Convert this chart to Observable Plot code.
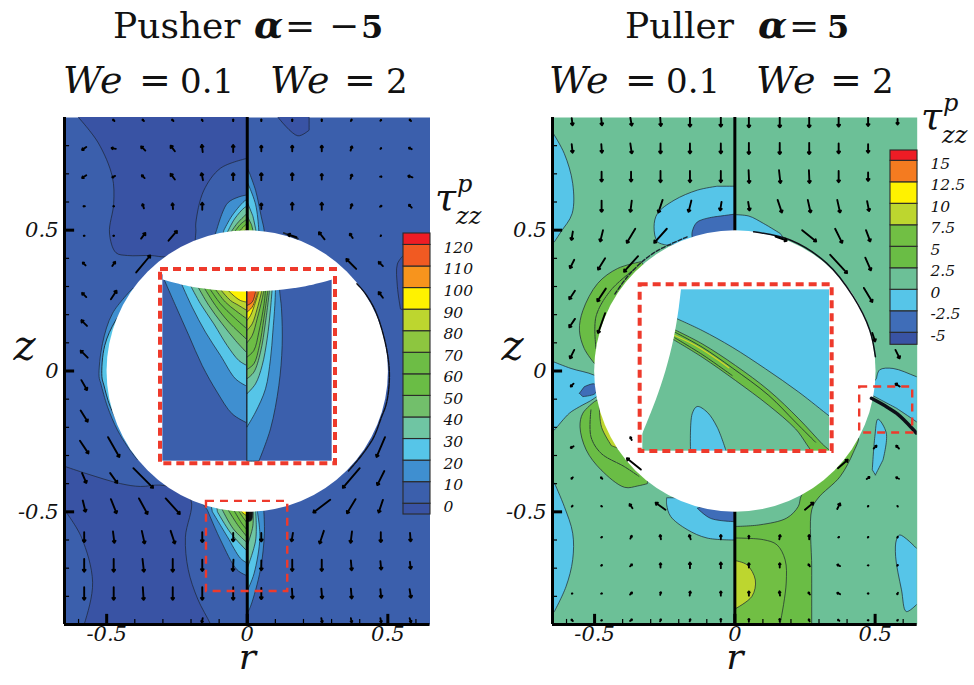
<!DOCTYPE html>
<html><head><meta charset="utf-8">
<script src="https://cdn.jsdelivr.net/npm/d3@7"></script>
<script src="https://cdn.jsdelivr.net/npm/@observablehq/plot@0.6"></script>
<style>
html,body{margin:0;background:#fff}
#page{position:relative;width:974px;height:685px;overflow:hidden;font-family:'DejaVu Serif';color:#111}
.m{position:absolute;font-style:italic;line-height:1;white-space:pre}
</style></head><body><div id="page"></div>
<script>
// ---------- shared colours (Tecplot flood levels)
const C={navy:"#3953a4",base:"#3b5fac",b10:"#3f8fd0",b20:"#56c5e8",sage:"#6cc097",g40:"#72bf6b",g50:"#6abd45",g60:"#6dbd45",g70:"#8dc63f",yg:"#bdd62f",y:"#fff200",o:"#f7941d",ro:"#f15a22",r:"#ee1c25"};
// ---------- axis ticks
const xMajor=[-0.5,0,0.5], yMajor=[-0.5,0,0.5];
const xMinor=[-0.6,-0.4,-0.3,-0.2,-0.1,0.1,0.2,0.3,0.4,0.6];
const yMinor=[-0.8,-0.7,-0.6,-0.4,-0.3,-0.2,-0.1,0.1,0.2,0.3,0.4,0.6,0.7,0.8];
const sphere=[{r:0,z:0,radius:0.5}];
// ---------- legends
const pusherLevels=[-5,0,10,20,30,40,50,60,70,80,90,100,110,120,125.3];
const pusherLevelColors=[C.navy,C.base,C.b10,C.b20,"#6fc5a3",C.g40,C.g50,C.g60,C.g70,C.yg,C.y,C.o,C.ro,C.r];
const pusherLabels=[0,10,20,30,40,50,60,70,80,90,100,110,120];
const pullerLevels=[-6.4,-5,-2.5,0,2.5,5,7.5,10,12.5,15,16.2];
const pullerLevelColors=[C.navy,"#3f6db8",C.b20,C.sage,C.g50,"#71bf44",C.yg,C.y,"#f47b20",C.r];
const pullerLabels=[-5,-2.5,0,2.5,5,7.5,10,12.5,15];

// ---------- Pusher: velocity arrows [r, z, dr*100, dz*100]
const pusherArrows=[
[-.475,.89,-.5,.5],[-.37,.89,-.5,.5],[-.265,.89,-.5,.5],[-.16,.89,-.3,.5],[-.05,.89,0,.6],[.05,.89,0,.6],[.16,.89,0,.6],[.265,.89,0,.6],[.37,.89,.3,.5],[.475,.89,.3,.3],[.58,.89,-.5,.5],
[-.58,.79,-1.5,-1],[-.475,.79,-1.5,.3],[-.37,.79,-1.5,1.5],[-.265,.79,-1.5,2],[-.16,.79,-.3,2.5],[-.05,.79,0,2.5],[.05,.79,0,2],[.16,.79,0,2],[.265,.79,0,2],[.37,.79,.5,1.5],[.475,.79,.3,.3],[.58,.79,-1,.5],
[-.58,.69,-1.5,-1],[-.475,.69,-1,-.5],[-.37,.69,-1,1],[-.265,.69,-1.5,2],[-.16,.69,-.5,2.5],[-.05,.69,0,2.5],[.05,.69,0,2.5],[.16,.69,0,2.5],[.265,.69,0,2],[.37,.69,.5,1.5],[.475,.69,.5,0],[.58,.69,-1.5,.5],
[-.58,.585,-.5,0],[-.475,.585,-.3,0],[-.37,.585,-.5,1.5],[-.265,.585,-.2,2],[-.16,.585,0,2.5],[.05,.585,0,2],[.16,.585,0,2.5],[.265,.585,0,2.5],[.37,.585,.5,1.5],[.475,.585,.5,.3],[.58,.585,-1,1],
[-.58,.48,-.3,0],[-.475,.48,-.3,0],[-.37,.48,1.5,2],[-.265,.48,3,3.5],[.16,.48,-3,1],[.265,.48,-2,2.5],[.37,.48,-1,1.5],[.475,.48,.2,.2],
[-.58,.38,-1,1],[-.475,.38,1,1.5],[-.37,.38,5,6],[.37,.38,-3.5,3.5],[.475,.38,-1.5,1.5],
[-.58,.27,-1.5,1.5],[-.475,.27,2,3],[.475,.27,-1.5,2],
[-.58,.17,-2,2],[-.58,.06,-2.5,2.5],
[-.58,-.05,2,-3.5],[-.58,-.16,2.5,-4],
[-.58,-.27,3,-4.5],[-.475,-.27,4,-7],[.475,-.27,-3,-7],
[-.58,-.38,1.5,-3.5],[-.475,-.38,2.5,-3.5],[-.37,-.38,7,-7],[.37,-.38,-6,-7],[.475,-.38,-2.5,-5],
[-.58,-.48,1,-4],[-.475,-.48,2,-5],[-.37,-.48,3,-5.5],[-.265,-.48,5,-5.5],[.265,-.48,-6,-4.5],[.37,-.48,-3,-5],[.475,-.48,-1.5,-4.5],
[-.58,-.59,0,-3.5],[-.475,-.59,.5,-4],[-.37,-.59,1,-4.5],[-.265,-.59,1.5,-4.5],[-.16,-.59,0,-3.5],[-.05,-.59,0,-3],[.05,-.59,0,-3],[.16,-.59,-.5,-3],[.265,-.59,-1.5,-4.5],[.37,-.59,-.5,-4],[.475,-.59,0,-3.5],[.58,-.59,.2,-3],
[-.58,-.69,0,-4.5],[-.475,-.69,0,-4.5],[-.37,-.69,.5,-4.5],[-.265,-.69,0,-4.5],[-.16,-.69,0,-4],[-.05,-.69,-.2,-4],[.05,-.69,0,-3.5],[.16,-.69,0,-4],[.265,-.69,0,-4],[.37,-.69,.3,-3.5],[.475,-.69,.3,-3],[.58,-.69,.3,-2.5],
[-.58,-.79,0,-4.5],[-.475,-.79,0,-4.5],[-.37,-.79,.3,-4.5],[-.265,-.79,0,-4.5],[-.16,-.79,0,-4.5],[-.05,-.79,0,-4.5],[.05,-.79,0,-4],[.16,-.79,.2,-3.5],[.265,-.79,.3,-3.5],[.37,-.79,.3,-3.5],[.475,-.79,.3,-3],[.58,-.79,.5,-3],
[-.16,-.885,-.3,-1.5],[.265,-.885,.3,-1.5],[.37,-.885,.3,-1.5],[.475,-.885,.3,-1.5],[.58,-.885,.5,-1.5]
];
// ---------- Pusher: contour regions, outer to inner [r, z]
const pusherDarkTop=[[-.62,.93],[-.6,.9],[-.53,.81],[-.48,.69],[-.475,.595],[-.49,.49],[-.467,.42],[-.426,.41],[-.343,.41],[-.29,.405],[-.2,.42],[-.183,.49],[-.183,.525],[-.155,.64],[-.095,.72],[0,.755],[0,.93]];
const pusherDarkLower=[[-.7,-.335],[-.645,-.34],[-.57,-.365],[-.45,-.4],[-.38,-.41],[-.31,-.405],[-.25,-.42],[-.2,-.46],[-.22,-.59],[-.21,-.705],[-.176,-.81],[-.13,-.9],[-.11,-.95],[-.7,-.95]];
const pusherBottomLeft=[[-.7,-.48],[-.645,-.5],[-.59,-.59],[-.55,-.75],[-.58,-.9],[-.6,-.95],[-.7,-.95]];
const pusherDarkTopRight=[[.11,.92],[.11,.9],[.18,.835],[.22,.855],[.22,.92]];
const pusherLegendPatch=[[.58,.43],[.555,.41],[.534,.38],[.534,.3],[.545,.22],[.58,.21]];
const pusherTopLeft=[
 [C.b10,[[-.12,.47],[-.109,.5],[-.071,.595],[-.03,.618],[0,.625],[0,.47]]],
 [C.b20,[[-.09,.47],[-.083,.5],[-.053,.553],[-.006,.606],[0,.606],[0,.47]]],
 ["#6fc5a3",[[-.072,.47],[-.072,.49],[-.045,.54],[-.01,.58],[0,.585],[0,.47]]],
 [C.g40,[[-.06,.47],[-.06,.49],[-.035,.525],[0,.56],[0,.47]]],
 [C.g50,[[-.048,.47],[-.048,.49],[-.025,.52],[0,.54],[0,.47]]],
 [C.g70,[[-.035,.47],[-.035,.49],[-.015,.51],[0,.525],[0,.47]]],
 [C.yg,[[-.02,.47],[-.02,.49],[0,.505],[0,.47]]]
];
const pusherTopRight=[
 [C.b10,[[0,.72],[.009,.7],[.03,.64],[.05,.547],[.06,.5],[.06,.47],[0,.47]]],
 [C.b20,[[0,.67],[.009,.65],[.03,.59],[.041,.5],[.041,.47],[0,.47]]],
 ["#6fc5a3",[[0,.6],[.02,.55],[.032,.49],[.032,.47],[0,.47]]],
 [C.g50,[[0,.55],[.015,.52],[.022,.49],[.022,.47],[0,.47]]]
];
const pusherBottomWedgeLeft=[
 [C.b10,[[-.16,-.47],[-.142,-.493],[-.095,-.6],[-.036,-.706],[0,-.727],[0,-.47]]],
 [C.b20,[[-.13,-.47],[-.124,-.5],[-.071,-.588],[-.024,-.665],[0,-.682],[0,-.47]]],
 ["#6fc5a3",[[-.11,-.47],[-.106,-.5],[-.059,-.575],[0,-.64],[0,-.47]]],
 [C.g40,[[-.09,-.47],[-.09,-.49],[-.05,-.56],[0,-.61],[0,-.47]]],
 [C.g50,[[-.07,-.47],[-.07,-.49],[-.035,-.545],[0,-.59],[0,-.47]]],
 [C.g60,[[-.05,-.47],[-.05,-.49],[-.02,-.54],[0,-.565],[0,-.47]]],
 [C.g70,[[-.035,-.47],[-.035,-.49],[-.015,-.52],[0,-.54],[0,-.47]]],
 [C.y,[[-.03,-.47],[-.03,-.49],[-.015,-.505],[0,-.515],[0,-.47]]]
];
const pusherBottomWedgeRight=[
 [C.b10,[[.059,-.47],[.059,-.5],[.061,-.576],[.047,-.705],[.012,-.835],[0,-.86],[0,-.47]]],
 [C.b20,[[.036,-.47],[.036,-.5],[.045,-.59],[.024,-.72],[0,-.78],[0,-.47]]],
 ["#6fc5a3",[[.03,-.47],[.03,-.5],[.03,-.6],[0,-.7],[0,-.47]]],
 [C.g40,[[.02,-.47],[.02,-.49],[.02,-.55],[0,-.62],[0,-.47]]],
 ["#111",[[.022,-.47],[.02,-.5],[.015,-.53],[0,-.535],[0,-.47]]]
];
const pusherLeftCrescent=[[-.3,.2],[-.408,.293],[-.479,.205],[-.515,.097],[-.527,-.02],[-.521,-.044],[-.497,-.127],[-.462,-.209],[-.426,-.268],[-.39,-.316],[-.3,-.2]];
const pusherLeftCrescentInner=[[-.3,.2],[-.4,.27],[-.468,.18],[-.507,.09],[-.517,-.02],[-.51,-.05],[-.488,-.125],[-.45,-.2],[-.4,-.28],[-.3,-.2]];
const pusherRimRight=[[.39,.31],[.42,.275],[.455,.215],[.485,.125],[.503,.03],[.505,-.04],[.495,-.115],[.475,-.17],[.45,-.235],[.41,-.295],[.36,-.355]];
const pusherRimTop=[[.13,.49],[.18,.47]];
const pusherBox={r1:-.145,r2:.144,z1:-.783,z2:-.463};

// ---------- Puller: velocity arrows [r, z, dr*100, dz*100]
const pullerArrows=[
[-.58,.885,.3,-2.5],[-.475,.885,.3,-2.5],[-.37,.885,.5,-2.8],[-.265,.885,.2,-3],[-.16,.885,0,-3.5],[-.05,.885,0,-3.5],[.05,.885,0,-4],[.16,.885,0,-4],[.265,.885,0,-4],[.37,.885,0,-3.5],[.475,.885,0,-3],[.58,.885,0,-2],
[-.58,.79,.3,-3],[-.475,.79,.2,-3],[-.37,.79,.5,-3.5],[-.265,.79,0,-3.5],[-.16,.79,0,-3.5],[-.05,.79,0,-3.5],[.05,.79,0,-4],[.16,.79,0,-4],[.265,.79,0,-4],[.37,.79,0,-3.5],[.475,.79,0,-3],
[-.475,.69,0,-3.5],[-.37,.69,0,-3.5],[-.265,.69,0,-4],[-.16,.69,0,-4],[-.05,.69,0,-4],[.05,.69,.2,-4.5],[.16,.69,.5,-4.5],[.265,.69,.2,-4.5],[.37,.69,0,-4],[.475,.69,0,-3],
[-.475,.585,0,-4],[-.37,.585,-.5,-4],[-.265,.585,-1.5,-4.5],[-.16,.585,-1,-4],[-.05,.585,-.5,-3],[.05,.585,.5,-3],[.16,.585,1.5,-4.5],[.265,.585,1,-4.5],[.37,.585,1,-4.5],[.475,.585,.7,-3.5],
[-.58,.48,-.5,-3],[-.475,.48,-1,-4],[-.37,.48,-3,-5],[-.265,.48,-4.5,-5],[.165,.47,4,-1.5],[.265,.48,5,-4],[.37,.48,2.5,-5],[.475,.48,1.5,-4],
[-.58,.38,-1.5,-3],[-.475,.38,-2.5,-4],[-.37,.38,-5,-5.5],[.37,.38,6,-6.5],[.475,.38,2,-4.5],
[-.58,.27,-2,-3],[-.475,.27,-3,-4.5],[.475,.27,3,-5],
[-.58,.17,-2,-3],[-.475,.17,-2.5,-7],[.495,.12,1,-3],
[-.58,.06,-1.5,-3],[.58,.06,1.5,-3],
[-.58,-.05,-1,-1],[.58,-.05,-1.5,1],
[-.58,-.27,-1,-.5],[-.37,-.24,-.5,1],[.5,-.27,1,1],[.58,-.27,-1,1],
[-.58,-.38,-.5,-.5],[-.475,-.38,-.5,.5],[-.36,-.33,-5,4],[.385,-.33,3.5,3],[.475,-.38,1,.7],[.58,-.38,-1,.5],
[-.58,-.48,.3,.3],[-.475,-.48,-.3,.2],[-.37,-.48,-1,1.5],[-.265,-.48,-3.5,2.5],[.265,-.48,3,2.5],[.37,-.48,1,2],[.475,-.48,.2,.2],[.58,-.48,.2,-.2],
[-.475,-.59,.3,.2],[-.37,-.59,.5,1],[-.265,-.59,-.3,1.5],[-.16,-.59,-.5,1.5],[-.05,-.59,0,1.5],[.05,-.59,0,1],[.16,-.59,.3,1.5],[.265,-.59,0,1.5],[.37,-.59,.3,.2],[.475,-.59,.2,.2],[.58,-.59,.2,.3],
[-.475,-.69,.3,.2],[-.37,-.69,.7,.7],[-.265,-.69,0,1.5],[-.16,-.69,0,2],[-.05,-.69,0,2],[.05,-.69,0,1.5],[.16,-.69,0,1.5],[.265,-.69,-.5,.7],[.37,-.69,-1,.5],[.475,-.69,.3,0],[.58,-.69,.2,.3],
[-.58,-.79,.2,.1],[-.475,-.79,.3,.1],[-.37,-.79,.7,.7],[-.265,-.79,.2,1],[-.16,-.79,.2,1.5],[-.05,-.79,0,1.5],[.05,-.79,0,1.5],[.16,-.79,-.2,1.5],[.265,-.79,-.5,.7],[.37,-.79,-1,.5],[.475,-.79,.3,0],[.58,-.79,-.3,-.5],
[-.58,-.885,-.5,.5],[-.475,-.885,.3,.1],[-.37,-.885,.7,.5],[-.265,-.885,.3,.7],[-.16,-.885,.2,.8],[-.05,-.885,0,1],[.05,-.885,0,1],[.16,-.885,0,1],[.265,-.885,-.3,.7],[.37,-.885,-.5,.3],[.475,-.885,.3,0],[.58,-.885,-.3,-.3]
];
// ---------- Puller: contour regions [r, z]
const pullerRegions=[
 [C.b20,[[-.7,.85],[-.647,.843],[-.608,.772],[-.578,.666],[-.58,.559],[-.62,.494],[-.643,.459],[-.7,.44]]],
 [C.b20,[[0,.45],[-.242,.447],[-.276,.459],[-.288,.512],[-.276,.559],[-.217,.606],[-.134,.642],[-.063,.656],[0,.656]]],
 ["#3f6db8",[[0,.45],[-.152,.47],[-.152,.494],[-.134,.529],[-.075,.547],[0,.557]]],
 [C.b20,[[0,.45],[0,.555],[.05,.55],[.102,.524],[.162,.488],[.175,.47]]],
 [C.g50,[[-.3,.35],[-.335,.388],[-.418,.364],[-.489,.311],[-.542,.214],[-.554,.145],[-.537,.08],[-.501,.027],[-.4,.05]]],
 [C.b20,[[-.7,.04],[-.647,.033],[-.584,.009],[-.501,-.015],[-.45,-.05],[-.501,-.097],[-.554,-.127],[-.59,-.15],[-.637,-.203],[-.7,-.26]]],
 ["#3f6db8",[[-.554,-.079],[-.537,-.056],[-.501,-.046],[-.492,-.068],[-.501,-.082],[-.542,-.091],[-.554,-.079]]],
 [C.g50,[[-.4,-.05],[-.501,-.109],[-.542,-.15],[-.552,-.198],[-.53,-.28],[-.477,-.351],[-.393,-.413],[-.346,-.408],[-.312,-.4],[-.3,-.3]]],
 [C.yg,[[-.4,-.1],[-.483,-.13],[-.475,-.2],[-.44,-.265],[-.35,-.3]]],
 [C.b20,[[-.7,-.36],[-.643,-.398],[-.608,-.481],[-.578,-.576],[-.578,-.67],[-.602,-.766],[-.643,-.853],[-.7,-.93]]],
 [C.g50,[[0,-.5],[0,-.552],[.09,-.546],[.185,-.522],[.226,-.481],[.238,-.44],[.35,-.3],[.44,-.238],[.422,-.29],[.375,-.375],[.297,-.451],[.274,-.493],[.274,-.7],[.274,-.9],[.274,-.95],[0,-.95]]],
 [C.b20,[[0,-.45],[-.243,-.45],[-.243,-.475],[-.229,-.516],[-.17,-.563],[-.099,-.593],[0,-.6],[0,-.45]]],
 ["#3f6db8",[[0,-.45],[-.134,-.487],[-.087,-.523],[0,-.535],[0,-.45]]],
 ["#71bf44",[[0,-.5],[0,-.593],[.102,-.599],[.15,-.617],[.179,-.67],[.183,-.753],[.161,-.9],[.15,-.95],[0,-.95]]],
 [C.yg,[[0,-.6],[0,-.673],[.043,-.688],[.073,-.742],[.061,-.8],[0,-.845],[0,-.9]]],
 [C.b20,[[.501,-.369],[.49,-.351],[.499,-.233],[.51,-.171],[.54,-.221],[.528,-.316],[.501,-.369]]],
 [C.b20,[[.7,-.65],[.647,-.629],[.588,-.582],[.576,-.599],[.573,-.658],[.594,-.777],[.611,-.854],[.647,-.83],[.7,-.78]]],
 [C.b20,[[.45,-.1],[.505,-.026],[.516,.004],[.564,.009],[.647,-.02],[.7,-.04],[.7,-.22],[.647,-.18],[.576,-.132],[.487,-.085]]]
];
const pullerLines=[
 [[-.495,.08],[-.495,.193],[-.442,.287],[-.36,.36]],
 [[-.513,-.138],[-.513,-.233],[-.477,-.292],[-.393,-.34],[-.342,-.374]]
];
const pullerRimRight=[[.067,.494],[.197,.465],[.327,.383],[.422,.264],[.481,.145],[.501,.051]];
const pullerRimLeft=[[-.17,.476],[-.288,.42],[-.37,.35],[-.43,.27]];
const pullerBlackBand=[[.487,-.097],[.576,-.15],[.647,-.22]];
const pullerBox={r1:.445,r2:.634,z1:-.22,z2:-.057};

// ---------- Inset data, in each inset's own coordinates
const inset1Blue={x1:22,x2:530,y1:28,y2:587};
const inset1Left=[
 [C.b10,[[25,30],[25,40],[60,120],[100,210],[140,300],[185,380],[230,445],[274,472],[274,30]]],
 [C.b20,[[78,30],[78,55],[110,125],[150,200],[195,270],[240,340],[274,362],[274,30]]],
 ["#6fc5a3",[[105,30],[105,60],[135,115],[175,175],[215,240],[250,285],[274,300],[274,30]]],
 [C.g40,[[125,30],[125,60],[160,120],[200,175],[240,225],[274,262],[274,30]]],
 [C.g50,[[145,30],[145,65],[180,120],[220,170],[274,222],[274,30]]],
 [C.g60,[[163,30],[163,70],[195,115],[235,155],[274,190],[274,30]]],
 [C.g70,[[180,30],[180,72],[210,110],[240,135],[274,160],[274,30]]],
 [C.yg,[[195,30],[195,72],[225,105],[250,120],[274,135],[274,30]]],
 [C.y,[[215,30],[215,72],[240,95],[255,105],[274,110],[274,30]]]
];
const inset1Right=[
 [C.b10,[[274,30],[372,30],[372,70],[378,130],[380,240],[370,360],[345,490],[310,587],[274,587]]],
 [C.b20,[[360,30],[360,70],[358,120],[352,200],[345,280],[330,370],[300,440],[274,485],[274,30]]],
 ["#6fc5a3",[[350,30],[350,70],[345,130],[335,220],[320,300],[300,355],[274,385],[274,30]]],
 [C.g40,[[342,30],[342,75],[330,170],[315,260],[295,320],[274,340],[274,30]]],
 [C.g50,[[337,30],[337,75],[325,160],[312,240],[295,295],[274,312],[274,30]]],
 [C.g60,[[330,30],[330,75],[325,120],[310,200],[295,255],[274,275],[274,30]]],
 [C.g70,[[325,30],[325,75],[320,100],[305,160],[290,210],[274,232],[274,30]]],
 [C.yg,[[318,30],[318,80],[305,130],[290,175],[274,195],[274,30]]],
 [C.y,[[310,30],[310,78],[300,110],[285,150],[274,165],[274,30]]],
 [C.o,[[305,30],[305,85],[290,125],[274,140],[274,30]]],
 [C.ro,[[300,30],[300,80],[290,110],[274,120],[274,30]]]
];
const inset1Cap=[[22,20],[22,42],[100,62],[190,74],[275,78],[360,74],[450,62],[530,42],[530,20]];
const inset1Box={x1:15,x2:540,y1:12,y2:595};
const inset2Base={x1:22,x2:582,y1:28,y2:512};
const inset2Sage=[[110,100],[125,115],[200,150],[290,200],[390,265],[490,335],[582,407],[600,420],[600,512],[10,512],[10,300]];
const inset2Band=[[100,140],[118,148],[200,190],[300,255],[400,330],[490,415],[560,490],[590,520],[545,525],[480,445],[400,375],[300,300],[200,230],[115,178],[100,170]];
const inset2Lines=[
 [[118,155],[200,200],[290,262],[400,345],[480,425],[540,485]],
 [[118,172],[200,222],[290,285]]
];
const inset2Yellow=[[118,165],[180,195],[250,240],[280,262]];
const inset2Blob=[[165,530],[165,512],[170,400],[185,378],[215,395],[245,440],[272,512],[275,530]];
const inset2White=[[10,20],[137,20],[130,80],[115,170],[90,270],[60,360],[22,455],[10,480]];
const inset2Box={x1:14,x2:590,y1:13,y2:513};
const inset2Edges=[{x1:0,x2:22,y1:0,y2:525},{x1:582,x2:615,y1:0,y2:525},{x1:0,x2:615,y1:512,y2:525}];

// ---------- helpers
const page=document.getElementById("page");
const FONT="DejaVu Serif", RED="#ee3a2c", LINE="#1c2430";
const xy={x:d=>d[0],y:d=>d[1]};
// first and last stretches of each contour are hidden closures: keep them straight
const straightEnds=p=>p.length<4?p:[p[0],p[1],p[1],...p.slice(2,-2),p[p.length-2],p[p.length-2],p[p.length-1]];
const poly=(pts,fill,sw=.7)=>Plot.line(straightEnds(pts),{...xy,fill,stroke:LINE,strokeWidth:sw,curve:"catmull-rom",clip:true});
const curve=(pts,o={})=>Plot.line(pts,{...xy,stroke:LINE,strokeWidth:.8,curve:"catmull-rom",clip:true,...o});
const regions=rs=>rs.map(([f,p])=>poly(p,f));
const place=(el,l,t)=>{Object.assign(el.style,{position:"absolute",left:l+"px",top:t+"px",background:"transparent",overflow:"visible"});page.appendChild(el);};
const arrows=a=>Plot.arrow(a,{x1:d=>d[0]-d[2]/200,y1:d=>d[1]-d[3]/200,x2:d=>d[0]+d[2]/200,y2:d=>d[1]+d[3]/200,stroke:"#000",strokeWidth:1.9,headLength:1.8,headAngle:75,bend:0,clip:true});
const txt=(s,l,baseline,size,extra="")=>{const d=document.createElement("div");d.className="m";d.style.cssText=`left:${l}px;top:${baseline-size*.846}px;font-size:${size}px;${extra}`;d.textContent=s;page.appendChild(d);return d;};

function panel({left,width,marginLeft,marginRight,bg,under,over,arrowData,box}){
  const fmt=d=>String(d);
  const el=Plot.plot({
    width,height:585,marginLeft,marginRight,marginTop:17,marginBottom:61,
    x:{domain:[-.65,.65],axis:null},y:{domain:[-.9,.9],axis:null},
    r:{type:"linear",domain:[0,.5],range:[0,140.7]},
    marks:[
      Plot.frame({fill:bg,stroke:null}),
      ...under,
      Plot.ruleX([0],{y1:-.9,y2:.9,stroke:"#000",strokeWidth:3}),
      Plot.dot(sphere,{x:"r",y:"z",r:"radius",fill:"#fff",stroke:null}),
      ...over,
      arrows(arrowData),
      Plot.rect([box],{x1:"r1",x2:"r2",y1:"z1",y2:"z2",fill:"none",stroke:RED,strokeWidth:2.4,strokeDasharray:"8 6"}),
      Plot.ruleX([-.65],{y1:-.9,y2:.9,stroke:"#000",strokeWidth:3}),
      Plot.ruleY([-.9],{x1:-.65,x2:.65,stroke:"#000",strokeWidth:3}),
      Plot.ruleX(xMinor,{y1:-.9,y2:-.882,stroke:"#000",strokeWidth:1.2}),
      Plot.ruleY(yMinor,{x1:-.65,x2:-.632,stroke:"#000",strokeWidth:1.2}),
      Plot.ruleX(xMajor,{y1:-.9,y2:-.864,stroke:"#000",strokeWidth:3}),
      Plot.ruleY(yMajor,{x1:-.65,x2:-.614,stroke:"#000",strokeWidth:3}),
      Plot.axisX({anchor:"bottom",ticks:xMajor,tickSize:0,tickPadding:2,label:null,tickFormat:fmt,fontSize:21,fontStyle:"italic",fontFamily:FONT,fill:"#111"}),
      Plot.axisY({anchor:"left",ticks:yMajor,tickSize:0,tickPadding:6,label:null,tickFormat:fmt,fontSize:21,fontStyle:"italic",fontFamily:FONT,fill:"#111"}),
      Plot.text(["r"],{frameAnchor:"bottom",dy:44,fontSize:36,fontStyle:"italic",fontFamily:FONT,fill:"#111"}),
      Plot.text(["z"],{frameAnchor:"left",dx:-51,dy:-24,fontSize:42,fontStyle:"italic",fontFamily:FONT,fill:"#111"})
    ]
  });
  place(el,left,100);
}
function legend({left,top,width,height,domain,range,levels,colors,labels,marginRight}){
  const rows=colors.map((c,i)=>({lo:levels[i],hi:levels[i+1],c}));
  const el=Plot.plot({width,height,marginLeft:1,marginRight,marginTop:0,marginBottom:0,
    x:{axis:null},y:{domain,range,axis:null},
    marks:[
      Plot.rect(rows,{y1:"lo",y2:"hi",fill:"c",stroke:"#2a2a2a",strokeWidth:1.1}),
      Plot.axisY({anchor:"right",ticks:labels,tickSize:0,tickPadding:13,label:null,dy:3,tickFormat:d=>String(d),fontSize:15.5,fontStyle:"italic",fontFamily:FONT,fill:"#111"})
    ]});
  place(el,left,top);
}

// ---------- Left panel
panel({left:0,width:480,marginLeft:64,marginRight:50.5,bg:C.base,arrowData:pusherArrows,box:pusherBox,
  under:[poly(pusherDarkTop,C.navy),poly(pusherDarkLower,C.navy),poly(pusherBottomLeft,C.base),poly(pusherDarkTopRight,C.navy),poly(pusherLegendPatch,C.navy),
    poly(pusherLeftCrescent,C.b10),poly(pusherLeftCrescentInner,C.b20,.9),
    ...regions(pusherTopLeft),...regions(pusherTopRight),...regions(pusherBottomWedgeLeft),...regions(pusherBottomWedgeRight)],
  over:[curve(pusherRimRight,{strokeWidth:1.4,stroke:"#0d0f18",strokeDasharray:"5 1"}),curve(pusherRimTop,{strokeWidth:1.8})]
});
// ---------- Right panel
panel({left:490,width:484,marginLeft:62,marginRight:57.3,bg:C.sage,arrowData:pullerArrows,box:pullerBox,
  under:[...regions(pullerRegions),...pullerLines.map(p=>curve(p,{strokeDasharray:"4 1"}))],
  over:[curve(pullerRimRight,{strokeWidth:1.5,stroke:"#0d0f18"}),curve(pullerRimLeft,{strokeWidth:1.4,strokeDasharray:"4 2"}),curve(pullerBlackBand,{strokeWidth:3.5,stroke:"#0d0f18",strokeDasharray:"9 1"})]
});
// ---------- Insets
const ipoly=(pts,fill,stroke=LINE)=>Plot.line(straightEnds(pts),{...xy,fill,stroke,strokeWidth:.7,curve:"catmull-rom",clip:true});
const inset1=Plot.plot({width:185,height:205,margin:0,x:{domain:[0,555],range:[0,185],axis:null},y:{domain:[0,615],range:[0,205],axis:null},
  marks:[
    Plot.rect([inset1Blue],{x1:"x1",x2:"x2",y1:"y1",y2:"y2",fill:C.base}),
    ...inset1Left.map(([f,p])=>ipoly(p,f)),...inset1Right.map(([f,p])=>ipoly(p,f)),
    ipoly(inset1Cap,"#fff","none"),
    Plot.ruleX([274],{y1:78,y2:587,stroke:"#1c2430",strokeWidth:1}),
    Plot.rect([inset1Box],{x1:"x1",x2:"x2",y1:"y1",y2:"y2",fill:"none",stroke:RED,strokeWidth:4,strokeDasharray:"8 5"})
  ]});
place(inset1,155,265);
const inset2=Plot.plot({width:205,height:175,margin:0,x:{domain:[0,615],range:[0,205],axis:null},y:{domain:[0,525],range:[0,175],axis:null},
  marks:[
    Plot.rect([inset2Base],{x1:"x1",x2:"x2",y1:"y1",y2:"y2",fill:C.b20}),
    ipoly(inset2Sage,C.sage),
    ipoly(inset2Band,C.g50),
    ...inset2Lines.map(p=>Plot.line(p,{...xy,stroke:LINE,strokeWidth:.8,curve:"catmull-rom",clip:true})),
    Plot.line(inset2Yellow,{...xy,stroke:"#d9d228",strokeWidth:1.2,curve:"catmull-rom",clip:true}),
    ipoly(inset2Blob,C.b20),
    ipoly(inset2White,"#fff","none"),
    Plot.rect(inset2Edges,{x1:"x1",x2:"x2",y1:"y1",y2:"y2",fill:"#fff"}),
    Plot.rect([inset2Box],{x1:"x1",x2:"x2",y1:"y1",y2:"y2",fill:"none",stroke:RED,strokeWidth:4,strokeDasharray:"8 5"})
  ]});
place(inset2,635,280);
// ---------- Legends
legend({left:401.5,top:220,width:90,height:310,domain:[-5,125.3],range:[294,13],levels:pusherLevels,colors:pusherLevelColors,labels:pusherLabels,marginRight:62});
legend({left:888.5,top:140,width:85,height:215,domain:[-6.4,16.2],range:[204.3,10],levels:pullerLevels,colors:pullerLevelColors,labels:pullerLabels,marginRight:57});

// ---------- Titles
function titleRow(dx,parts){parts.forEach(([s,x,b,sz,st])=>txt(s,x+dx,b,sz,st||""));}
const B="font-style:normal;font-weight:bold;",BI="font-style:italic;font-weight:bold;",N="font-style:normal;",LS="letter-spacing:1px;";
titleRow(0,[["Pusher",113,38,36,N],["\u03B1",254,38,38,BI],["=",285,38,36,N],["\u2212",329,38,36,N],["5",361,38,32,B]]);
titleRow(0,[["We",63,93,38,LS],["=",139,93,38,N],["0.1",180,93,34,N],["We",270,93,38,LS],["=",344,93,38,N],["2",386,93,34,N]]);
titleRow(0,[["Puller",625,38,36,N],["\u03B1",758,38,38,BI],["=",789,38,36,N],["5",827,38,32,B]]);
titleRow(486,[["We",63,93,38,LS],["=",139,93,38,N],["0.1",180,93,34,N],["We",270,93,38,LS],["=",344,93,38,N],["2",386,93,34,N]]);
// tau labels
txt("\u03C4",435,210,38); txt("p",457,192,24); txt("zz",456,224,24);
txt("\u03C4",921,129,38); txt("p",943,111,24); txt("zz",942,143,24);
</script></body></html>
